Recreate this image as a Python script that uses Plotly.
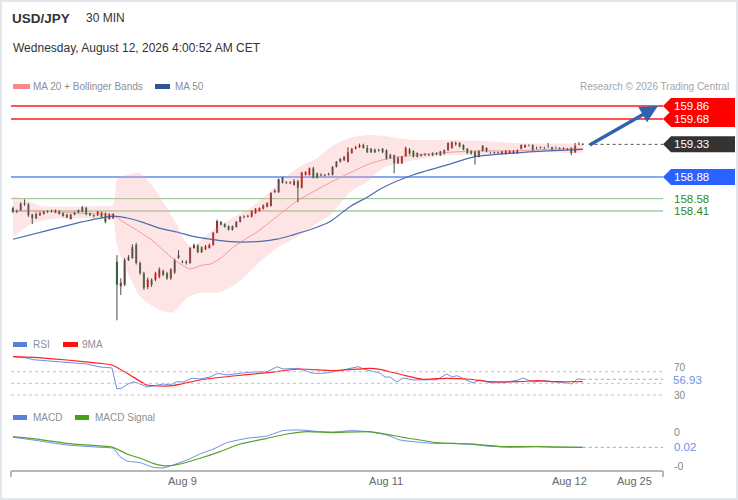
import plotly.graph_objects as go

# ---------------- data ----------------
opens = [158.45,158.40,158.42,158.51,158.50,158.36,158.31,158.35,158.37,158.40,
         158.40,158.39,158.41,158.38,158.36,158.30,158.36,158.39,158.40,158.45,
         158.38,158.34,158.35,158.39,158.38,158.30,158.31,157.71,157.37,157.39,
         157.73,157.76,157.94,157.69,157.55,157.36,157.46,157.46,157.50,157.58,
         157.55,157.48,157.56,157.76,157.71,157.71,157.69,157.90,157.93,157.91,
         157.88,157.90,157.94,158.11,158.26,158.23,158.20,158.15,158.19,158.26,
         158.32,158.33,158.33,158.38,158.41,158.44,158.47,158.48,158.67,158.67,
         158.87,158.81,158.80,158.77,158.82,158.73,158.91,158.91,159.00,158.93,
         158.90,158.91,158.91,158.91,159.02,159.09,159.11,159.09,159.21,159.27,
         159.29,159.32,159.28,159.27,159.26,159.24,159.27,159.25,159.14,159.18,
         159.07,159.07,159.17,159.26,159.24,159.21,159.17,159.18,159.19,159.18,
         159.19,159.18,159.20,159.25,159.28,159.33,159.35,159.32,159.27,159.24,
         159.23,159.16,159.24,159.28,159.21,159.21,159.22,159.20,159.20,159.21,
         159.21,159.21,159.27,159.29,159.31,159.32,159.28,159.28,159.28,159.30,
         159.29,159.28,159.28,159.27,159.26,159.28,159.22,159.33,159.32]
highs = [158.47,158.43,158.53,158.57,158.52,158.37,158.39,158.40,158.41,158.42,
         158.43,158.43,158.42,158.39,158.37,158.37,158.40,158.43,158.48,158.47,
         158.39,158.36,158.41,158.40,158.39,158.38,158.38,157.80,157.48,157.76,
         157.80,157.95,157.97,157.71,157.57,157.49,157.48,157.57,157.63,157.60,
         157.57,157.62,157.75,157.87,157.73,157.73,157.91,157.96,157.95,157.92,
         157.94,157.96,158.12,158.29,158.27,158.24,158.21,158.21,158.27,158.34,
         158.35,158.36,158.42,158.45,158.46,158.50,158.53,158.67,158.71,158.86,
         158.88,158.82,158.82,158.85,158.84,158.95,158.96,159.01,159.02,158.94,
         158.93,158.92,158.94,159.03,159.10,159.14,159.17,159.29,159.28,159.31,
         159.34,159.34,159.32,159.28,159.27,159.27,159.28,159.26,159.20,159.19,
         159.16,159.17,159.30,159.28,159.25,159.22,159.20,159.21,159.20,159.22,
         159.22,159.24,159.26,159.36,159.37,159.37,159.36,159.33,159.28,159.25,
         159.24,159.25,159.32,159.29,159.23,159.23,159.23,159.24,159.25,159.25,
         159.25,159.26,159.33,159.33,159.33,159.33,159.30,159.30,159.30,159.35,
         159.30,159.30,159.29,159.29,159.28,159.29,159.35,159.36,159.35]
lows = [158.38,158.38,158.41,158.48,158.33,158.23,158.30,158.34,158.36,158.38,
        158.39,158.38,158.36,158.33,158.31,158.29,158.35,158.38,158.39,158.35,
        158.34,158.32,158.34,158.32,158.24,158.29,158.30,156.90,157.25,157.37,
        157.72,157.75,157.67,157.53,157.32,157.33,157.36,157.44,157.48,157.51,
        157.46,157.46,157.54,157.75,157.69,157.67,157.68,157.89,157.83,157.83,
        157.87,157.89,157.93,158.10,158.21,158.18,158.14,158.14,158.18,158.25,
        158.31,158.32,158.32,158.37,158.40,158.43,158.46,158.47,158.66,158.66,
        158.79,158.78,158.78,158.76,158.53,158.72,158.90,158.90,158.86,158.86,
        158.89,158.89,158.90,158.90,159.01,159.08,159.10,159.08,159.20,159.26,
        159.28,159.27,159.21,159.21,159.21,159.23,159.21,159.12,159.13,158.93,
        159.06,159.06,159.16,159.19,159.15,159.15,159.16,159.17,159.17,159.17,
        159.18,159.17,159.19,159.24,159.27,159.31,159.29,159.25,159.20,159.19,
        159.05,159.15,159.23,159.22,159.20,159.20,159.20,159.19,159.19,159.20,
        159.20,159.20,159.26,159.28,159.30,159.24,159.26,159.27,159.26,159.28,
        159.25,159.27,159.26,159.26,159.25,159.18,159.21,159.32,159.32]
closes = [158.40,158.41,158.51,158.52,158.35,158.31,158.37,158.38,158.40,158.41,
          158.41,158.42,158.37,158.34,158.32,158.36,158.39,158.42,158.46,158.36,
          158.35,158.35,158.40,158.33,158.26,158.37,158.37,157.39,157.42,157.73,
          157.77,157.91,157.69,157.55,157.35,157.46,157.39,157.55,157.60,157.53,
          157.48,157.60,157.73,157.80,157.70,157.69,157.90,157.94,157.84,157.84,
          157.92,157.94,158.11,158.27,158.22,158.19,158.15,158.20,158.26,158.33,
          158.33,158.34,158.41,158.44,158.45,158.49,158.52,158.66,158.69,158.85,
          158.80,158.80,158.81,158.82,158.73,158.94,158.95,159.00,158.87,158.87,
          158.91,158.90,158.92,159.02,159.09,159.13,159.16,159.22,159.27,159.29,
          159.32,159.28,159.22,159.22,159.22,159.25,159.22,159.14,159.18,159.07,
          159.14,159.16,159.28,159.20,159.16,159.16,159.18,159.19,159.18,159.20,
          159.21,159.23,159.25,159.35,159.36,159.35,159.30,159.26,159.21,159.20,
          159.16,159.24,159.31,159.23,159.21,159.22,159.21,159.23,159.24,159.24,
          159.24,159.25,159.32,159.32,159.31,159.25,159.28,159.29,159.28,159.30,
          159.26,159.28,159.27,159.28,159.26,159.21,159.31,159.34,159.33]

ma20_idx = [0, 7, 17, 26, 28.6, 32, 36, 39, 42, 46, 49, 51.5, 54, 57, 59.7, 63.4,
            66.8, 70.1, 73.8, 77.1, 82.3, 88, 93, 98, 104, 113, 121, 130, 139, 148]
ma20_val = [158.41, 158.41, 158.38, 158.35, 158.26, 158.15, 158.01, 157.87, 157.73,
            157.61, 157.66, 157.68, 157.76, 157.90, 158.00, 158.12, 158.26, 158.40,
            158.55, 158.65, 158.80, 158.95, 159.07, 159.14, 159.18, 159.22, 159.24,
            159.24, 159.26, 159.27]

bbu_idx = [0, 4, 7, 12, 17, 23, 26, 27, 29, 33, 36.4, 40, 42.6, 45, 46.8, 49.4, 53,
           58.2, 61.6, 64.9, 68.6, 72, 75.3, 79, 83, 87.5, 92, 96, 104, 113, 121, 130,
           139, 148]
bbu_val = [158.62, 158.55, 158.48, 158.47, 158.47, 158.48, 158.49, 158.84, 158.90,
           158.93, 158.74, 158.45, 158.22, 157.97, 157.91, 158.04, 158.19, 158.35,
           158.45, 158.59, 158.77, 158.93, 159.05, 159.14, 159.31, 159.42, 159.46,
           159.45, 159.39, 159.39, 159.38, 159.35, 159.34, 159.32]

bbl_idx = [0, 5, 10, 17, 23, 26, 27, 30, 33.3, 38.2, 41.6, 45.2, 48.6, 53, 56.4, 59.7,
           64.2, 68.6, 73.8, 79, 82.3, 87.5, 92, 96, 104, 113, 121, 130, 139, 148]
bbl_val = [158.05, 158.24, 158.30, 158.31, 158.30, 158.29, 157.94, 157.53, 157.21,
           157.04, 157.01, 157.21, 157.28, 157.28, 157.35, 157.48, 157.71, 157.90,
           158.05, 158.24, 158.35, 158.67, 158.81, 159.00, 159.11, 159.18, 159.18,
           159.21, 159.22, 159.22]

ma50_idx = [0, 9.6, 18, 26, 30, 33.3, 38.2, 42.6, 46.8, 51.2, 55.6, 59.7, 64.2, 68.6,
            72.7, 77.1, 82.3, 87.5, 92, 96, 104, 113, 120, 130, 139, 148]
ma50_val = [158.02, 158.15, 158.26, 158.34, 158.31, 158.26, 158.17, 158.12, 158.06,
            158.02, 157.99, 157.98, 157.99, 158.02, 158.08, 158.15, 158.26, 158.47,
            158.60, 158.73, 158.91, 159.05, 159.16, 159.21, 159.24, 159.26]

rsi_idx = [0, 3.6, 5.2, 14, 19.2, 22.6, 25.7, 27, 28.3, 29.9, 31.2, 33, 34.8, 36.4, 39,
           40.8, 42.6, 44.2, 46.5, 48.6, 51.2, 53.2, 55.6, 59, 62.3, 66, 68.6, 70.1,
           73.8, 75.3, 77.9, 80.5, 83.1, 86.8, 89.6, 91.9, 95.3, 96.6, 97.9, 99.7,
           101.3, 103.9, 106.5, 110.1, 112.7, 114, 115.3, 116.9, 119.5, 121.3, 123.9,
           127.3, 130.9, 132.5, 135.1, 137.7, 141.3, 143.9, 145.2, 146.5, 148]
rsi_val = [95.8, 93.5, 90.6, 85.5, 83.2, 78.1, 76.4, 40.3, 42.0, 48.9, 52.8, 48.9, 43.7,
           45.5, 48.9, 47.2, 52.8, 52.3, 58.7, 57.5, 60.9, 67.3, 64.3, 67.3, 69.5, 70.0,
           78.6, 74.6, 75.8, 72.9, 67.3, 67.3, 69.5, 74.6, 78.6, 72.9, 67.8, 60.9, 60.9,
           52.3, 59.2, 55.8, 55.8, 56.3, 66.1, 60.9, 63.1, 58.7, 50.6, 55.8, 51.1, 51.1,
           55.2, 59.2, 52.3, 54.5, 52.8, 50.6, 48.9, 57.5, 56.93]

rsi_ma_idx = [0, 5.2, 14, 22.6, 25.7, 30.4, 34.8, 40.8, 48.6, 57.1, 66, 74.5, 83.1,
              92.7, 95.3, 101.3, 106.5, 112.7, 118.7, 123.9, 130.9, 136.1, 141.3, 148]
rsi_ma_val = [95.8, 94.7, 90.1, 84.4, 81.5, 64.3, 47.2, 45.5, 55.8, 62.6, 68.3, 74.6,
              71.7, 75.8, 74.1, 64.3, 57.0, 58.7, 57.0, 52.8, 52.8, 54.5, 52.8, 52.8]

macd_idx = [0, 5.2, 14, 22.6, 26, 27.8, 29.6, 33, 36.4, 39, 41.6, 45.2, 48.6, 51.9, 55.6,
            60.8, 66, 70.1, 74.5, 79.7, 83.1, 88.3, 92.7, 97.1, 100.5, 105.7, 110.1,
            114.3, 118.7, 123.1, 129.1, 136.1, 141.3, 148]
macd_val = [0.050, 0.042, 0.027, 0.020, 0.017, -0.008, -0.021, -0.026, -0.040, -0.042,
            -0.033, -0.018, 0.000, 0.014, 0.034, 0.047, 0.054, 0.070, 0.072, 0.067,
            0.066, 0.070, 0.066, 0.057, 0.042, 0.035, 0.031, 0.032, 0.029, 0.024,
            0.020, 0.022, 0.020, 0.020]

sig_idx = [0, 5.2, 14, 22.6, 26, 29.6, 33, 36.4, 40, 43.4, 48.6, 53.8, 59, 66, 71.2,
           76.4, 83.1, 92.7, 101.3, 110.1, 118.7, 127.3, 136.1, 148]
sig_val = [0.052, 0.046, 0.032, 0.024, 0.020, 0.000, -0.013, -0.028, -0.036, -0.030,
           -0.013, 0.007, 0.030, 0.047, 0.060, 0.067, 0.064, 0.067, 0.050, 0.034,
           0.030, 0.022, 0.022, 0.020]

resistance_levels = [159.86, 159.68]
pivot_level = 158.88
support_levels = [158.58, 158.41]
rsi_levels = [70, 50, 30]
rsi_level_labels = ["70", "", "30"]
macd_tick_vals = [0.067, -0.036]
macd_tick_text = ["0", "-0"]
date_tick_pos = [44.0, 96.9, 144.5, 161.4]
date_tick_text = ["Aug 9", "Aug 11", "Aug 12", "Aug 25"]

# ---------------- layout helpers ----------------
W, H = 738, 500
L, R, T, B = 11, 663, 95, 471
PW, PH = R - L, B - T
FONT = "Liberation Sans, Arial, sans-serif"


def fx(px):
    return (px - L) / PW


def fy(py):
    return (B - py) / PH


N = len(closes)
x_idx = list(range(N))
x_range = [-0.52, 168.83]
price_range = [156.766, 160.012]
rsi_range = [24.85, 103.8]
macd_range = [-0.0511, 0.0899]
px_per_price = (330 - 95) / (price_range[1] - price_range[0])

fig = go.Figure()

# Bollinger band fill
fig.add_trace(go.Scatter(
    x=bbu_idx + bbl_idx[::-1], y=bbu_val + bbl_val[::-1],
    fill="toself", fillcolor="rgba(250,170,170,0.30)", mode="lines",
    line=dict(width=0, shape="spline", smoothing=0.6), hoverinfo="skip"))
fig.add_trace(go.Scatter(x=ma20_idx, y=ma20_val, mode="lines",
                         line=dict(color="#f59a9a", width=1, shape="spline", smoothing=0.6)))
fig.add_trace(go.Scatter(x=ma50_idx, y=ma50_val, mode="lines",
                         line=dict(color="#4a6db0", width=1.2, shape="spline", smoothing=0.6)))

# wicks
wx, wy = [], []
for i in range(N):
    wx += [x_idx[i], x_idx[i], None]
    wy += [lows[i], highs[i], None]
fig.add_trace(go.Scatter(x=wx, y=wy, mode="lines", line=dict(color="#4a4a4a", width=1),
                         hoverinfo="skip"))

fig.add_trace(go.Candlestick(
    x=x_idx, open=opens, high=highs, low=lows, close=closes,
    increasing=dict(fillcolor="#e8141c", line=dict(color="#e8141c", width=0)),
    decreasing=dict(fillcolor="#2e7d32", line=dict(color="#2e7d32", width=0)),
    whiskerwidth=0))

# RSI
fig.add_trace(go.Scatter(x=rsi_idx, y=rsi_val, yaxis="y2", mode="lines",
                         line=dict(color="#6d8ee6", width=1)))
fig.add_trace(go.Scatter(x=rsi_ma_idx, y=rsi_ma_val, yaxis="y2", mode="lines",
                         line=dict(color="#ff2222", width=1.2, shape="spline", smoothing=0.5)))
# MACD
fig.add_trace(go.Scatter(x=macd_idx, y=macd_val, yaxis="y3", mode="lines",
                         line=dict(color="#6d8ee6", width=1, shape="spline", smoothing=0.5)))
fig.add_trace(go.Scatter(x=sig_idx, y=sig_val, yaxis="y3", mode="lines",
                         line=dict(color="#5aa02c", width=1.2, shape="spline", smoothing=0.5)))

shapes = []
annotations = []

# horizontal levels
for lv in resistance_levels:
    shapes.append(dict(type="line", xref="paper", yref="y", x0=0, x1=1, y0=lv, y1=lv,
                       line=dict(color="#ff1a1a", width=1.6), layer="below"))
shapes.append(dict(type="line", xref="paper", yref="y", x0=0, x1=1, y0=pivot_level,
                   y1=pivot_level, line=dict(color="#5b8def", width=1.6), layer="below"))
shapes.append(dict(type="line", xref="paper", yref="y", x0=0, x1=1, y0=support_levels[0],
                   y1=support_levels[0], line=dict(color="#8cc48c", width=1), layer="below"))
shapes.append(dict(type="line", xref="paper", yref="y", x0=0, x1=1, y0=support_levels[1],
                   y1=support_levels[1], line=dict(color="#b5dbb5", width=2), layer="below"))
# last price dotted
shapes.append(dict(type="line", xref="x", yref="y", x0=N + 0.5, x1=x_range[1],
                   y0=closes[-1], y1=closes[-1], line=dict(color="#555", width=1, dash="dot")))

# label boxes
hbox = 8 / px_per_price
boxes = [(resistance_levels[0], "#ff0000"), (resistance_levels[1], "#ff0000"),
         (closes[-1], "#333333"), (pivot_level, "#2962ff")]
for lv, col in boxes:
    path = (f"M {fx(663)},{lv} L {fx(671)},{lv + hbox} L {fx(735)},{lv + hbox} "
            f"L {fx(735)},{lv - hbox} L {fx(671)},{lv - hbox} Z")
    shapes.append(dict(type="path", xref="paper", yref="y", path=path, fillcolor=col,
                       line=dict(width=0)))
    annotations.append(dict(x=fx(672), y=lv, xref="paper", yref="y", xanchor="left",
                            yanchor="middle", text=f"{lv:.2f}", showarrow=False,
                            font=dict(color="white", size=11.5, family=FONT)))
for lv in support_levels:
    annotations.append(dict(x=fx(672), y=lv, xref="paper", yref="y", xanchor="left",
                            yanchor="middle", text=f"{lv:.2f}", showarrow=False,
                            font=dict(color="#2a8a2a", size=11.5, family=FONT)))

# target arrow
annotations.append(dict(x=167.5, y=resistance_levels[0], xref="x", yref="y",
                        ax=N + 0.4, ay=closes[-1] - 0.02, axref="x", ayref="y",
                        text="", showarrow=True, arrowhead=2, arrowsize=1,
                        arrowwidth=3.5, arrowcolor="#2f63ad"))

# RSI levels
for lv, lab in zip(rsi_levels, rsi_level_labels):
    shapes.append(dict(type="line", xref="paper", yref="y2", x0=0, x1=1, y0=lv, y1=lv,
                       line=dict(color="#c4c4c4", width=1, dash="dot")))
    if lab:
        annotations.append(dict(x=fx(672), y=lv, xref="paper", yref="y2", xanchor="left",
                                yanchor="middle", text=lab, showarrow=False,
                                yshift=4 if lv == rsi_levels[0] else 0,
                                font=dict(color="#888", size=10, family=FONT)))
shapes.append(dict(type="line", xref="x", yref="y2", x0=rsi_idx[-1], x1=x_range[1],
                   y0=rsi_val[-1], y1=rsi_val[-1], line=dict(color="#8fa8ea", width=1, dash="dot")))
annotations.append(dict(x=fx(672), y=rsi_val[-1], xref="paper", yref="y2", xanchor="left",
                        yanchor="middle", text=f"{rsi_val[-1]:.2f}", showarrow=False,
                        yshift=-1, bgcolor="white", borderpad=0,
                        font=dict(color="#6f8fe6", size=11.5, family=FONT)))

# MACD ticks
for tv, tt in zip(macd_tick_vals, macd_tick_text):
    annotations.append(dict(x=fx(672), y=tv, xref="paper", yref="y3", xanchor="left",
                            yanchor="middle", text=tt, showarrow=False,
                            font=dict(color="#888", size=10.5, family=FONT)))
shapes.append(dict(type="line", xref="x", yref="y3", x0=macd_idx[-1], x1=x_range[1],
                   y0=macd_val[-1], y1=macd_val[-1], line=dict(color="#8fa8ea", width=1, dash="dot")))
annotations.append(dict(x=fx(672), y=macd_val[-1], xref="paper", yref="y3", xanchor="left",
                        yanchor="middle", text=f"{macd_val[-1]:.2f}", showarrow=False,
                        font=dict(color="#6f8fe6", size=11.5, family=FONT)))

# axis end ticks
for px in (L, R):
    shapes.append(dict(type="line", xref="paper", yref="paper", x0=fx(px), x1=fx(px),
                       y0=fy(471), y1=fy(477), line=dict(color="#b7b7b7", width=2)))

# header & legends
def text(px, py, s, size, color, bold=False, anchor="left"):
    annotations.append(dict(x=fx(px), y=fy(py), xref="paper", yref="paper", xanchor=anchor,
                            yanchor="middle", text=f"<b>{s}</b>" if bold else s,
                            showarrow=False, font=dict(size=size, color=color, family=FONT)))


def swatch(px0, px1, py0, py1, color):
    shapes.append(dict(type="rect", xref="paper", yref="paper", x0=fx(px0), x1=fx(px1),
                       y0=fy(py1), y1=fy(py0), fillcolor=color, line=dict(width=0)))


text(10, 18, "USD/JPY", 13.5, "#333", bold=True)
text(84, 17.5, "30 MIN", 12, "#333")
text(11, 48, "Wednesday, August 12, 2026 4:00:52 AM CET", 12, "#333")
swatch(13, 30, 84, 89, "#f88a8a")
text(31, 86.5, "MA 20 + Bollinger Bands", 10, "#8a8f99")
swatch(155, 170, 84, 89, "#2f5597")
text(173, 86.5, "MA 50", 10, "#8a8f99")
text(731, 86.5, "Research © 2026 Trading Central", 10, "#a6a6a6", anchor="right")
swatch(13, 27, 342, 347, "#5b7fdb")
text(31, 344.5, "RSI", 10, "#8a8f99")
swatch(63, 78, 342, 347, "#ff1010")
text(80, 344.5, "9MA", 10, "#8a8f99")
swatch(13, 27, 415, 420, "#5b7fdb")
text(31, 417.5, "MACD", 10, "#8a8f99")
swatch(75, 89, 415, 420, "#4aa01c")
text(93, 417.5, "MACD Signal", 10, "#8a8f99")

# outer border
shapes.append(dict(type="rect", xref="paper", yref="paper", x0=fx(1), x1=fx(737),
                   y0=fy(499), y1=fy(1), line=dict(color="#e3e7ec", width=2)))

hidden = dict(showgrid=False, zeroline=False, showticklabels=False, showline=False,
              ticks="")
fig.update_layout(
    width=W, height=H, margin=dict(l=L, r=W - R, t=T, b=H - B),
    paper_bgcolor="white", plot_bgcolor="white", showlegend=False,
    boxgap=0.22,
    xaxis=dict(domain=[0, 1], range=x_range, showgrid=False, zeroline=False,
               showline=True, linecolor="#b7b7b7", linewidth=2, ticks="",
               tickvals=date_tick_pos, ticktext=date_tick_text,
               tickfont=dict(size=11, color="#666", family=FONT),
               anchor="free", position=0, rangeslider=dict(visible=False)),
    yaxis=dict(domain=[fy(330), 1], range=price_range, **hidden),
    yaxis2=dict(domain=[fy(398), fy(352)], range=rsi_range, anchor="x", **hidden),
    yaxis3=dict(domain=[0, fy(424)], range=macd_range, anchor="x", **hidden),
    shapes=shapes, annotations=annotations,
    font=dict(family=FONT),
)

fig.write_html("out.html", config={"displayModeBar": False},
               post_script="document.body.style.margin='0px';")
